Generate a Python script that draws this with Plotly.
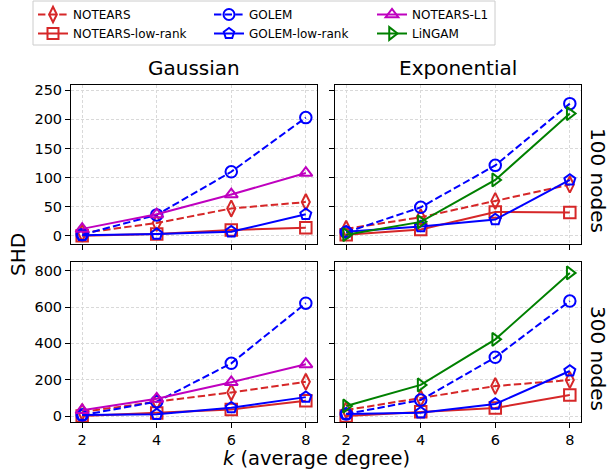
import plotly.graph_objects as go

k = [2, 4, 6, 8]

# Gaussian, 100 nodes
g100 = {
    "NOTEARS": [5, 22, 47, 58],
    "NOTEARS-low-rank": [0, 3, 10, 14],
    "GOLEM": [2, 36, 110, 203],
    "GOLEM-low-rank": [1, 3, 7, 37],
    "NOTEARS-L1": [12, 37, 71, 108],
}
# Exponential, 100 nodes
e100 = {
    "NOTEARS": [12, 32, 60, 88],
    "NOTEARS-low-rank": [2, 11, 41, 40],
    "GOLEM": [6, 49, 121, 227],
    "GOLEM-low-rank": [7, 16, 28, 96],
    "LiNGAM": [2, 24, 96, 210],
}
# Gaussian, 300 nodes
g300 = {
    "NOTEARS": [22, 79, 130, 188],
    "NOTEARS-low-rank": [0, 16, 36, 84],
    "GOLEM": [5, 79, 290, 621],
    "GOLEM-low-rank": [5, 9, 46, 104],
    "NOTEARS-L1": [32, 95, 186, 285],
}
# Exponential, 300 nodes
e300 = {
    "NOTEARS": [33, 97, 165, 198],
    "NOTEARS-low-rank": [0, 24, 44, 116],
    "GOLEM": [11, 88, 323, 633],
    "GOLEM-low-rank": [11, 18, 66, 248],
    "LiNGAM": [55, 171, 422, 788],
}

col_titles = ["Gaussian", "Exponential"]
row_titles = ["100 nodes", "300 nodes"]
methods = ["NOTEARS", "NOTEARS-low-rank", "GOLEM",
           "GOLEM-low-rank", "NOTEARS-L1", "LiNGAM"]

RED = "#d62728"
DASH = "7.4px,3.2px"
styles = {
    "NOTEARS": dict(color=RED, dash=DASH, symbol="diamond-tall-open"),
    "NOTEARS-low-rank": dict(color=RED, dash="solid", symbol="square-open"),
    "GOLEM": dict(color="blue", dash=DASH, symbol="circle-open"),
    "GOLEM-low-rank": dict(color="blue", dash="solid", symbol="pentagon-open"),
    "NOTEARS-L1": dict(color="#bf00bf", dash="solid", symbol="triangle-up-open"),
    "LiNGAM": dict(color="green", dash="solid", symbol="triangle-right-open"),
}
# matplotlib legend columns (ncol=3)
legend_cols = [["NOTEARS", "NOTEARS-low-rank"],
               ["GOLEM", "GOLEM-low-rank"],
               ["NOTEARS-L1", "LiNGAM"]]

W, H = 610, 472
xdom = [(71 / W, 317 / W), (335 / W, 581 / W)]
ydom = [(1 - 244 / H, 1 - 85 / H), (1 - 422 / H, 1 - 262 / H)]
yranges = [[-14, 259], [-33, 848]]
ytickvals = [[0, 50, 100, 150, 200, 250], [0, 200, 400, 600, 800]]

panels = [[g100, e100], [g300, e300]]

fig = go.Figure()
layout = {}
idx = 0
for r in range(2):
    for c in range(2):
        idx += 1
        sfx = "" if idx == 1 else str(idx)
        data = panels[r][c]
        for name in [m for m in methods if m in data]:
            st = styles[name]
            fig.add_trace(go.Scatter(
                x=k, y=data[name], name=name, mode="lines+markers",
                xaxis="x" + sfx, yaxis="y" + sfx,
                line=dict(color=st["color"], width=2, dash=st["dash"]),
                marker=dict(symbol=st["symbol"], size=11.5, color=st["color"],
                            line=dict(width=2, color=st["color"])),
                showlegend=False,
            ))
        common = dict(
            ticks="outside", ticklen=5, tickcolor="black",
            showline=True, linecolor="black", linewidth=1, mirror=True,
            showgrid=True, gridcolor="#d9d9d9", griddash="3px,2px", gridwidth=1,
            zeroline=False, tickfont=dict(size=14.5, color="black"),
        )
        layout["xaxis" + sfx] = dict(
            domain=xdom[c], anchor="y" + sfx, range=[1.7, 8.3],
            tickvals=k, showticklabels=(r == 1), **common)
        layout["yaxis" + sfx] = dict(
            domain=ydom[r], anchor="x" + sfx, range=yranges[r],
            tickvals=ytickvals[r], showticklabels=(c == 0), **common)

# legend entries, one plotly legend per matplotlib legend column
legend_x = [33, 209, 372]
for ci, col in enumerate(legend_cols):
    lg = "legend" if ci == 0 else "legend%d" % (ci + 1)
    for name in col:
        st = styles[name]
        fig.add_trace(go.Scatter(
            x=[None], y=[None], name=name, mode="lines+markers",
            line=dict(color=st["color"], width=2, dash=st["dash"]),
            marker=dict(symbol=st["symbol"], size=11, color=st["color"],
                        line=dict(width=2, color=st["color"])),
            showlegend=True, legend=lg,
        ))
    layout[lg] = dict(x=legend_x[ci] / W, y=1, xanchor="left",
                      yanchor="top", bgcolor="rgba(0,0,0,0)", borderwidth=0,
                      font=dict(size=12, color="black"), traceorder="normal")

def ann(text, x, y, size=20, angle=0):
    return dict(text=text, x=x / W, y=1 - y / H, xref="paper", yref="paper",
                xanchor="center", yanchor="middle", showarrow=False,
                textangle=angle, font=dict(size=size, color="black"))

annotations = []
for c, t in enumerate(col_titles):
    annotations.append(ann(t, (xdom[c][0] + xdom[c][1]) / 2 * W, 68))
row_y = [180, 358]
for r, t in enumerate(row_titles):
    annotations.append(ann(t, 598, row_y[r], angle=90))
annotations.append(ann("SHD", 18, 255, angle=-90))
annotations.append(ann("<i>k</i> (average degree)", 316, 458.5, size=19.5))

shapes = [dict(type="rect", xref="paper", yref="paper",
               x0=33 / W, x1=495 / W, y0=1 - 45 / H, y1=1 - 1 / H,
               line=dict(color="#cccccc", width=1), fillcolor="white",
               layer="below")]

fig.update_layout(
    width=W, height=H,
    margin=dict(l=0, r=0, t=0, b=0, autoexpand=False),
    plot_bgcolor="white", paper_bgcolor="white",
    font=dict(family="DejaVu Sans", color="black"),
    annotations=annotations, shapes=shapes,
    **layout,
)

fig.write_html("out.html", config={"displayModeBar": False},
               post_script="document.body.style.margin='0';"
                           "document.body.style.overflow='hidden';")
